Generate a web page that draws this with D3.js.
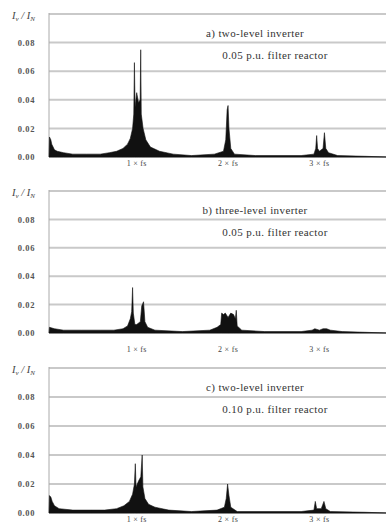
<!DOCTYPE html>
<html>
<head>
<meta charset="utf-8">
<script src="https://cdn.jsdelivr.net/npm/d3@7"></script>
<style>
  body { margin: 0; background: #fff; }
  svg { display: block; font-family: "Liberation Serif", "DejaVu Serif", serif; }
</style>
</head>
<body>
<svg id="chart" width="386" height="522"></svg>
<script>
// y ticks and x tick labels (multiples of switching frequency)
const yTicks = [0, 0.02, 0.04, 0.06, 0.08];
const xTicks = [1, 2, 3];
const xTickLabels = ['1 × fs', '2 × fs', '3 × fs'];

// panel titles
const titles = [
  ['a) two-level inverter', '0.05 p.u. filter reactor'],
  ['b) three-level inverter', '0.05 p.u. filter reactor'],
  ['c) two-level inverter', '0.10 p.u. filter reactor']
];

// spectra: [frequency / fs, I_v / I_N]
const spectrumA = [
  [0.04, 0], [0.045, 0.014], [0.06, 0.012], [0.07, 0.009], [0.085, 0.007], [0.1, 0.005], [0.13, 0.004],
  [0.2, 0.003], [0.3, 0.002], [0.45, 0.002], [0.6, 0.002], [0.7, 0.003], [0.78, 0.004],
  [0.85, 0.006], [0.9, 0.009], [0.93, 0.013], [0.955, 0.02], [0.968, 0.03], [0.975, 0.066],
  [0.982, 0.035], [1.0, 0.045], [1.02, 0.038], [1.038, 0.04], [1.044, 0.075], [1.05, 0.03],
  [1.07, 0.02], [1.1, 0.012], [1.15, 0.007], [1.25, 0.004], [1.4, 0.002], [1.6, 0.001],
  [1.85, 0.002], [1.95, 0.004], [1.975, 0.012], [1.99, 0.033], [2.0, 0.036], [2.01, 0.02],
  [2.03, 0.006], [2.07, 0.002], [2.3, 0.001], [2.8, 0.001], [2.94, 0.002], [2.96, 0.006],
  [2.97, 0.015], [2.98, 0.006], [3.0, 0.004], [3.04, 0.006], [3.055, 0.017], [3.07, 0.006],
  [3.1, 0.003], [3.2, 0.001], [3.5, 0.0005], [3.74, 0]
];

const spectrumB = [
  [0.04, 0], [0.045, 0.004], [0.1, 0.003], [0.2, 0.002], [0.4, 0.002], [0.6, 0.002],
  [0.75, 0.002], [0.85, 0.003], [0.9, 0.005], [0.93, 0.01], [0.945, 0.015], [0.955, 0.032],
  [0.963, 0.014], [0.98, 0.006], [1.0, 0.006], [1.04, 0.008], [1.055, 0.019], [1.075, 0.022],
  [1.09, 0.008], [1.12, 0.004], [1.2, 0.002], [1.5, 0.001], [1.8, 0.002], [1.88, 0.004],
  [1.92, 0.006], [1.93, 0.014], [1.95, 0.013], [1.97, 0.014], [2.0, 0.011], [2.03, 0.014],
  [2.06, 0.013], [2.08, 0.01], [2.09, 0.016], [2.1, 0.005], [2.15, 0.002], [2.4, 0.001],
  [2.8, 0.001], [2.92, 0.002], [2.95, 0.003], [3.0, 0.002], [3.04, 0.003], [3.08, 0.003],
  [3.12, 0.002], [3.25, 0.001], [3.5, 0.0005], [3.74, 0]
];

const spectrumC = [
  [0.04, 0], [0.045, 0.012], [0.06, 0.011], [0.075, 0.008], [0.1, 0.005], [0.15, 0.003],
  [0.3, 0.002], [0.5, 0.002], [0.65, 0.002], [0.78, 0.003], [0.86, 0.005], [0.92, 0.008],
  [0.955, 0.013], [0.975, 0.02], [0.985, 0.034], [0.993, 0.018], [1.02, 0.022], [1.045, 0.025],
  [1.06, 0.04], [1.068, 0.018], [1.09, 0.01], [1.13, 0.006], [1.2, 0.004], [1.35, 0.002],
  [1.6, 0.001], [1.88, 0.002], [1.96, 0.004], [1.98, 0.01], [1.995, 0.02], [2.01, 0.012],
  [2.03, 0.004], [2.1, 0.001], [2.8, 0.001], [2.94, 0.002], [2.955, 0.008], [2.97, 0.003],
  [3.02, 0.003], [3.05, 0.008], [3.07, 0.003], [3.12, 0.001], [3.5, 0.0005], [3.74, 0]
];

const spectra = [spectrumA, spectrumB, spectrumC];

// layout of the three stacked panels
const panels = [
  { top: 14, bottom: 157, labelY: 166 },
  { top: 191, bottom: 333, labelY: 352 },
  { top: 368, bottom: 513, labelY: 522 }
];

const svg = d3.select('#chart');
const left = 49, right = 386;

const x = d3.scaleLinear()
  .domain([0.04, 3.74])
  .range([left, right + 1]);

panels.forEach((p, k) => {
  const y = d3.scaleLinear()
    .domain([0, 0.1])
    .range([p.bottom, p.top]);

  const g = svg.append('g');

  // grid lines
  g.append('g')
    .selectAll('line')
    .data(yTicks.concat([0.1]))
    .join('line')
    .attr('x1', left)
    .attr('x2', right)
    .attr('y1', d => y(d))
    .attr('y2', d => y(d))
    .attr('stroke', d => d === 0 ? '#777' : '#c9c9c9')
    .attr('stroke-width', d => d === 0 ? 1.2 : 2);

  // left border
  g.append('line')
    .attr('x1', left).attr('x2', left)
    .attr('y1', p.top - 1).attr('y2', p.bottom)
    .attr('stroke', '#aaa');

  // spectrum
  const area = d3.area()
    .x(d => x(d[0]))
    .y0(y(0))
    .y1(d => y(d[1]));

  g.append('path')
    .datum(spectra[k])
    .attr('d', area)
    .attr('fill', '#111')
    .attr('stroke', '#111')
    .attr('stroke-width', 0.6);

  // y axis labels
  g.append('g')
    .attr('transform', `translate(${left - 11},0)`)
    .call(d3.axisLeft(y).tickValues(yTicks).tickFormat(d3.format('.2f')).tickSize(0))
    .call(a => a.select('.domain').remove())
    .call(a => a.selectAll('text')
      .attr('font-family', '"Liberation Serif", serif')
      .attr('font-size', 8.5)
      .attr('letter-spacing', 0.6)
      .attr('fill', '#555')
      .attr('font-weight', 'bold'));

  // x tick labels
  g.append('g')
    .selectAll('text')
    .data(xTicks)
    .join('text')
    .attr('x', d => x(d))
    .attr('y', p.labelY)
    .attr('text-anchor', 'middle')
    .attr('font-size', 8)
    .attr('letter-spacing', 0.3)
    .attr('fill', '#444')
    .text((d, i) => xTickLabels[i]);

  // y axis title I_v / I_N
  const t = g.append('text')
    .attr('x', 12)
    .attr('y', p.top + 5)
    .attr('font-size', 10.5)
    .attr('font-style', 'italic')
    .attr('fill', '#444');
  t.append('tspan').text('I');
  t.append('tspan').attr('font-size', 7).attr('dy', 2).text('ν');
  t.append('tspan').attr('dy', -2).text(' / I');
  t.append('tspan').attr('font-size', 7).attr('dy', 2).text('N');

  // panel title
  g.append('text')
    .attr('x', 255)
    .attr('y', p.top + 23)
    .attr('text-anchor', 'middle')
    .attr('font-size', 11)
    .attr('letter-spacing', 0.4)
    .attr('fill', '#333')
    .text(titles[k][0]);
  g.append('text')
    .attr('x', 275)
    .attr('y', p.top + 45)
    .attr('text-anchor', 'middle')
    .attr('font-size', 11)
    .attr('letter-spacing', 0.4)
    .attr('fill', '#333')
    .text(titles[k][1]);
});
</script>
</body>
</html>
